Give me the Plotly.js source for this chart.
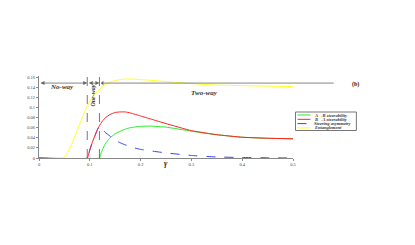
<!DOCTYPE html>
<html>
<head>
<meta charset="utf-8">
<script src="https://cdn.plot.ly/plotly-3.0.1.min.js"></script>
<style>html,body{margin:0;padding:0;background:#fff;}#chart{width:415px;height:245px;}</style>
</head>
<body>
<div id="chart"></div>
<script>
// ---- data ----
const seriesNames = ["A\u2192B steerability", "B\u2192A steerability", "Steering asymmetry", "Entanglement"];

const gammaAB = [0, 0.119, 0.122, 0.125, 0.13, 0.135, 0.14, 0.15, 0.16, 0.17, 0.18, 0.2, 0.22, 0.25, 0.3, 0.35, 0.4, 0.45, 0.5];
const steerAB = [0, 0, 0.009, 0.017, 0.027, 0.034, 0.040, 0.048, 0.053, 0.057, 0.060, 0.0625, 0.063, 0.061, 0.053, 0.046, 0.041, 0.039, 0.038];

const gammaBA = [0, 0.095, 0.1, 0.105, 0.11, 0.115, 0.119, 0.125, 0.13, 0.14, 0.15, 0.16, 0.17, 0.18, 0.2, 0.22, 0.25, 0.3, 0.35, 0.4, 0.45, 0.5];
const steerBA = [0, 0, 0.016, 0.031, 0.044, 0.056, 0.064, 0.073, 0.079, 0.086, 0.090, 0.091, 0.091, 0.089, 0.083, 0.077, 0.068, 0.054, 0.046, 0.041, 0.039, 0.038];

const gammaAsym = [0, 0.095, 0.1, 0.105, 0.11, 0.115, 0.119, 0.125, 0.13, 0.14, 0.15, 0.16, 0.18, 0.2, 0.22, 0.25, 0.3, 0.35, 0.4, 0.45, 0.5];
const asym = [0, 0, 0.016, 0.031, 0.044, 0.056, 0.064, 0.057, 0.051, 0.043, 0.035, 0.030, 0.022, 0.017, 0.014, 0.010, 0.005, 0.002, 0.001, 0.0005, 0];

const gammaEnt = [0, 0.045, 0.05, 0.055, 0.06, 0.065, 0.07, 0.075, 0.08, 0.085, 0.09, 0.095, 0.1, 0.11, 0.12, 0.13, 0.14, 0.15, 0.16, 0.17, 0.18, 0.19, 0.2, 0.22, 0.25, 0.3, 0.35, 0.4, 0.45, 0.5];
const entang = [0, 0, 0.002, 0.009, 0.018, 0.029, 0.041, 0.054, 0.067, 0.080, 0.092, 0.103, 0.112, 0.126, 0.137, 0.145, 0.150, 0.153, 0.155, 0.156, 0.156, 0.1557, 0.155, 0.1535, 0.151, 0.147, 0.144, 0.143, 0.142, 0.141];

const xTicks = [0, 0.1, 0.2, 0.3, 0.4, 0.5];
const yTicks = [0, 0.02, 0.04, 0.06, 0.08, 0.1, 0.12, 0.14, 0.16];
const regionBounds = [0, 0.095, 0.119, 0.58];
const regionLabels = ["No-way", "One-way", "Two-way"];
const arrowLevel = 0.148;
const panelLabel = "(b)";
const xTitle = "\u03b3";

// ---- styles ----
const colors = ["#22ee22", "#ff2222", "#3344ff", "#ffff22"];
const dashes = ["solid", "solid", "dash", "solid"];
const serif = "Liberation Serif, DejaVu Serif, serif";

const xs = [gammaAB, gammaBA, gammaAsym, gammaEnt];
const ys = [steerAB, steerBA, asym, entang];
const order = [3, 2, 0, 1];
const traces = order.map(i => ({
  x: xs[i], y: ys[i], type: "scatter", mode: "lines", name: seriesNames[i],
  line: {color: colors[i], width: 1, dash: dashes[i], shape: "spline", smoothing: 0.35},
  showlegend: false, cliponaxis: false
}));

// plot geometry helpers for legend placement (paper coords)
const L = 39, T = 76, W = 254.5, H = 82;
const px = p => (p - L) / W;
const py = p => (T + H - p) / H;

const shapes = [];
const annotations = [];
// dashed boundaries
[regionBounds[1], regionBounds[2]].forEach(b => {
  shapes.push({type: "line", xref: "x", yref: "paper", x0: b, x1: b, y0: 0, y1: py(73),
    line: {color: "#555", width: 0.8, dash: "dash"}});
});
// region arrows
for (let k = 0; k < 3; k++) {
  annotations.push({x: regionBounds[k + 1], y: arrowLevel, ax: regionBounds[k], ay: arrowLevel,
    xref: "x", yref: "y", axref: "x", ayref: "y", text: "", showarrow: true,
    arrowside: k === 2 ? "start" : "end+start", arrowhead: 2, arrowsize: 1, arrowwidth: 0.8,
    arrowcolor: "#666", standoff: 0, startstandoff: 0});
}
annotations.push({x: 0.045, y: 0.141, xref: "x", yref: "y", text: "<b><i>" + regionLabels[0] + "</i></b>",
  showarrow: false, font: {family: serif, size: 7, color: "#333"}});
annotations.push({x: 0.107, y: 0.124, xref: "x", yref: "y", text: "<b><i>" + regionLabels[1] + "</i></b>",
  showarrow: false, textangle: -90, font: {family: serif, size: 6, color: "#333"}, bgcolor: "rgba(0,0,0,0)"});
annotations.push({x: 0.325, y: 0.129, xref: "x", yref: "y", text: "<b><i>" + regionLabels[2] + "</i></b>",
  showarrow: false, font: {family: serif, size: 7, color: "#333"}});
annotations.push({x: px(362), y: py(79), xref: "paper", yref: "paper", text: "<b>" + panelLabel + "</b>",
  showarrow: false, font: {family: serif, size: 6, color: "#222"}});
annotations.push({x: 0.5, y: py(170), xref: "paper", yref: "paper", text: "<b><i>" + xTitle + "</i></b>",
  showarrow: false, font: {family: serif, size: 8, color: "#222"}});

// custom compact legend
shapes.push({type: "rect", xref: "paper", yref: "paper", x0: px(296), x1: px(357), y0: py(112), y1: py(130.5),
  line: {color: "#777", width: 1}, fillcolor: "#fff"});
const rowsY = [115, 119.3, 123.6, 127.9];
for (let i = 0; i < 4; i++) {
  shapes.push({type: "line", xref: "paper", yref: "paper", x0: px(298), x1: px(311), y0: py(rowsY[i]), y1: py(rowsY[i]),
    line: {color: colors[i], width: 1, dash: dashes[i] === "dash" ? "dash" : "solid"}});
  annotations.push({x: px(313), y: py(rowsY[i]), xref: "paper", yref: "paper", xanchor: "left", yanchor: "middle",
    text: "<b><i>" + seriesNames[i] + "</i></b>", showarrow: false,
    font: {family: serif, size: 4.5, color: "#333"}});
}

const layout = {
  width: 415, height: 245,
  margin: {l: L, r: 415 - L - W, t: T, b: 245 - T - H, pad: 0},
  paper_bgcolor: "#fff", plot_bgcolor: "#fff",
  showlegend: false,
  xaxis: {range: [0, 0.5], tickvals: xTicks, ticktext: xTicks.map(String), showgrid: false, zeroline: false,
    showline: true, linecolor: "#888", linewidth: 1, ticks: "outside", ticklen: 2, tickcolor: "#888",
    tickfont: {family: serif, size: 4.5, color: "#444"}},
  yaxis: {range: [0, 0.162], tickvals: yTicks, ticktext: yTicks.map(String), showgrid: false, zeroline: false,
    showline: true, linecolor: "#888", linewidth: 1, ticks: "outside", ticklen: 2, tickcolor: "#888",
    tickfont: {family: serif, size: 4.5, color: "#444"}},
  shapes: shapes,
  annotations: annotations
};

Plotly.newPlot("chart", traces, layout, {staticPlot: true, displayModeBar: false});
</script>
</body>
</html>
